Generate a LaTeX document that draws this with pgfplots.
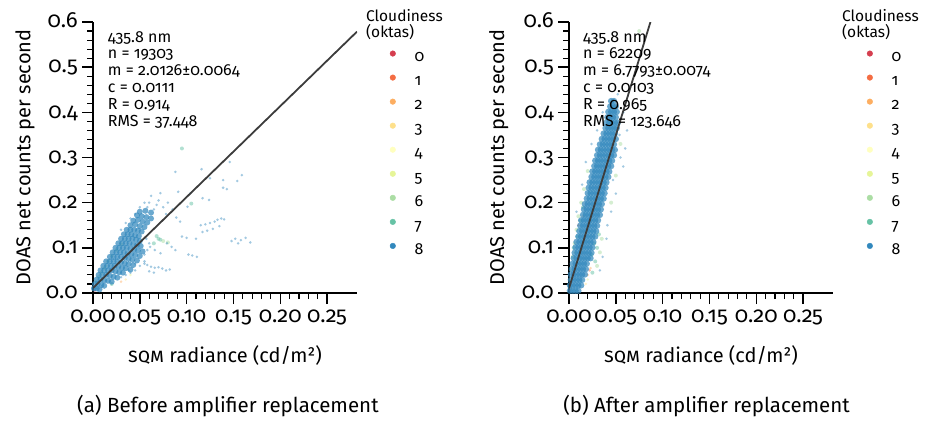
\documentclass[border=0pt]{standalone}
\usepackage{fontspec}
\setmainfont{Fira Sans}[Numbers=OldStyle]
\usepackage{pgfplots}
\pgfplotsset{compat=1.18}
\definecolor{c0}{HTML}{D53E4F}
\definecolor{c1}{HTML}{F46D43}
\definecolor{c2}{HTML}{FDAE61}
\definecolor{c3}{HTML}{FEE08B}
\definecolor{c4}{HTML}{FFFFBF}
\definecolor{c5}{HTML}{E6F598}
\definecolor{c6}{HTML}{ABDDA4}
\definecolor{c7}{HTML}{66C2A5}
\definecolor{c8}{HTML}{3288BD}
\definecolor{fitc}{HTML}{3C3C3C}
\tikzset{boxfont/.style={anchor=base west, inner sep=0pt, font=\fontsize{16bp}{18bp}\selectfont}}
\pgfplotsset{
  myax/.style={
    scale only axis, width=264bp, height=271bp, anchor=south west,
    xmin=0, xmax=0.282, ymin=0, ymax=0.6,
    axis lines*=left, axis line style={line width=1.4bp},
    tick align=outside, major tick length=11bp, minor tick length=6bp,
    major tick style={line width=1.4bp, black},
    minor tick style={line width=1.1bp, black},
    xtick={0,0.05,0.1,0.15,0.2,0.25}, ytick={0,0.1,0.2,0.3,0.4,0.5,0.6},
    minor x tick num=4, minor y tick num=4,
    tick label style={font=\fontsize{22bp}{24bp}\selectfont},
    /pgf/number format/assume math mode=true,
    xticklabel style={/pgf/number format/.cd, fixed, fixed zerofill, precision=2, /tikz/.cd, text height=11.6bp, text depth=0bp, inner sep=7bp},
    yticklabel style={/pgf/number format/.cd, fixed, fixed zerofill, precision=1, /tikz/.cd, text height=11.6bp, text depth=0bp, inner sep=4bp},
    label style={font=\fontsize{20bp}{23bp}\selectfont},
    xlabel={\textsc{sqm} radiance (cd/m²)},
    ylabel={DOAS net counts per second},
    xlabel style={at={(axis description cs:0.5,-0.229)}, anchor=center},
    clip mode=individual,
    legend image code/.code={\draw[#1] plot coordinates {(0bp,4.5bp)};},
    legend cell align=left,
  },
  core/.style={only marks, mark=*, mark size=3bp, fill opacity=0.72, draw opacity=0, forget plot},
  sparse/.style={only marks, mark=*, mark size=1.4bp, fill opacity=0.45, draw opacity=0, forget plot},
  light/.style={only marks, mark=*, mark size=2bp, fill opacity=0.5, draw opacity=0, forget plot},
  fitline/.style={no marks, line width=1.8bp, color=fitc, forget plot},
  leg/.style={only marks, mark=*, mark size=2.8bp, #1, fill opacity=1},
  legsty/.style={legend style={draw=none, fill=none, inner sep=0pt, outer sep=0pt,
    font=\fontsize{16bp}{18bp}\selectfont, row sep=10bp, column sep=19bp,
    nodes={inner sep=0pt, text height=10.5bp, text depth=3bp},
    at={(axis description cs:#1,0.894)}, anchor=north west}},
}
\newcommand{\legendentries}{%
  \addlegendimage{leg=c0}\addlegendentry{0}
  \addlegendimage{leg=c1}\addlegendentry{1}
  \addlegendimage{leg=c2}\addlegendentry{2}
  \addlegendimage{leg=c3}\addlegendentry{3}
  \addlegendimage{leg=c4}\addlegendentry{4}
  \addlegendimage{leg=c5}\addlegendentry{5}
  \addlegendimage{leg=c6}\addlegendentry{6}
  \addlegendimage{leg=c7}\addlegendentry{7}
  \addlegendimage{leg=c8}\addlegendentry{8}
}
\newcommand{\legtitle}{%
  \node[anchor=base west, inner sep=0pt, font=\fontsize{15.5bp}{18bp}\selectfont] at (axis description cs:1.034,1.003) {Cloudiness};
  \node[anchor=base west, inner sep=0pt, font=\fontsize{15.5bp}{18bp}\selectfont] at (axis description cs:1.034,0.941) {(oktas)};
}
\begin{document}
\begin{tikzpicture}
\useasboundingbox (0,0) rectangle (928bp,423bp);
% ---------------- (a) ----------------
\begin{axis}[myax, at={(93bp,130bp)}, legsty=1.125,
  ylabel style={at={(axis description cs:-0.258,0.5)}, anchor=center}]
\addplot[sparse, color=c0] coordinates {(0.002,0.005)};
\addplot[sparse, color=c1] coordinates {(0.006,0.010)};
\addplot[sparse, color=c2] coordinates {(0.003,0.012)(0.030,0.025)};
\addplot[sparse, color=c3] coordinates {(0.004,0.020)(0.035,0.030)};
\addplot[sparse, color=c4] coordinates {(0.005,0.022)};
\addplot[sparse, color=c5] coordinates {(0.002,0.015)(0.008,0.040)(0.014,0.060)(0.040,0.040)};
\addplot[light, color=c6] coordinates {(0.003,0.025)(0.006,0.035)(0.009,0.045)(0.012,0.055)(0.016,0.070)(0.020,0.082)(0.025,0.095)(0.030,0.108)(0.075,0.115)(0.080,0.112)};
\addplot[light, color=c7] coordinates {(0.095,0.320)(0.105,0.198)(0.070,0.120)(0.068,0.126)(0.072,0.118)(0.065,0.110)(0.020,0.020)};
\addplot[core, color=c8] coordinates {
(0.001,0.010)(0.004,0.010)(0.007,0.008)
(0.002,0.020)(0.005,0.020)(0.009,0.018)(0.012,0.016)
(0.004,0.030)(0.008,0.030)(0.012,0.028)(0.016,0.027)(0.020,0.025)
(0.006,0.040)(0.010,0.040)(0.014,0.040)(0.018,0.038)(0.022,0.036)(0.026,0.034)
(0.008,0.050)(0.012,0.050)(0.016,0.050)(0.020,0.050)(0.024,0.048)(0.028,0.046)(0.032,0.045)
(0.011,0.060)(0.015,0.060)(0.019,0.060)(0.023,0.060)(0.027,0.058)(0.031,0.056)(0.035,0.055)(0.040,0.052)
(0.014,0.070)(0.018,0.070)(0.022,0.070)(0.026,0.070)(0.030,0.068)(0.034,0.066)(0.038,0.064)(0.043,0.062)
(0.018,0.080)(0.022,0.080)(0.026,0.080)(0.030,0.080)(0.034,0.078)(0.038,0.076)(0.042,0.074)(0.047,0.072)
(0.021,0.090)(0.025,0.090)(0.029,0.090)(0.033,0.090)(0.037,0.088)(0.041,0.086)(0.045,0.084)(0.050,0.082)
(0.024,0.100)(0.028,0.100)(0.032,0.100)(0.036,0.100)(0.040,0.098)(0.044,0.096)(0.048,0.094)(0.053,0.092)
(0.027,0.110)(0.031,0.110)(0.035,0.110)(0.039,0.110)(0.043,0.108)(0.047,0.106)(0.051,0.104)
(0.030,0.120)(0.034,0.120)(0.038,0.120)(0.042,0.120)(0.046,0.118)(0.050,0.115)
(0.033,0.130)(0.037,0.130)(0.041,0.130)(0.045,0.128)(0.049,0.126)
(0.036,0.140)(0.040,0.140)(0.044,0.140)(0.048,0.138)(0.052,0.136)
(0.040,0.150)(0.045,0.152)(0.050,0.148)(0.055,0.146)
(0.043,0.160)(0.048,0.162)(0.053,0.158)(0.058,0.156)
(0.047,0.172)(0.052,0.170)(0.057,0.168)(0.062,0.165)
(0.050,0.180)(0.056,0.182)(0.062,0.178)};
\addplot[sparse, color=c8] coordinates {
(0.088,0.268)(0.116,0.274)(0.146,0.290)(0.159,0.261)(0.154,0.248)(0.139,0.250)(0.125,0.254)(0.139,0.233)(0.143,0.230)(0.091,0.224)(0.072,0.221)(0.104,0.221)(0.117,0.210)(0.124,0.206)(0.101,0.191)(0.089,0.167)(0.093,0.158)
(0.115,0.150)(0.120,0.152)(0.125,0.155)(0.130,0.158)(0.133,0.162)(0.137,0.165)(0.140,0.163)(0.135,0.148)(0.128,0.142)(0.122,0.138)(0.117,0.135)
(0.095,0.125)(0.100,0.122)(0.110,0.120)(0.079,0.110)(0.084,0.102)(0.088,0.095)
(0.148,0.115)(0.152,0.120)(0.158,0.117)(0.163,0.122)(0.168,0.112)(0.155,0.110)
(0.102,0.085)(0.111,0.080)(0.106,0.083)
(0.055,0.070)(0.058,0.062)(0.062,0.058)(0.066,0.056)(0.070,0.057)(0.074,0.054)(0.078,0.050)(0.082,0.052)(0.060,0.048)(0.065,0.045)
(0.061,0.102)(0.066,0.095)(0.072,0.088)
(0.050,0.190)(0.055,0.200)(0.062,0.215)(0.070,0.205)(0.075,0.190)(0.080,0.200)(0.085,0.185)(0.065,0.185)(0.058,0.190)(0.068,0.195)(0.078,0.175)(0.060,0.200)
(0.030,0.035)(0.035,0.040)(0.040,0.045)(0.045,0.050)(0.050,0.060)(0.055,0.065)(0.045,0.065)(0.038,0.050)(0.055,0.085)(0.058,0.095)(0.060,0.110)(0.057,0.120)
(0.030,0.140)(0.035,0.155)(0.040,0.165)(0.045,0.175)};
\addplot[fitline] coordinates {(0,0.0111)(0.282,0.5787)};
\legendentries
\node[boxfont] at (axis description cs:0.0557,0.9262) {435.8 nm};
\node[boxfont] at (axis description cs:0.0557,0.8638) {n = 19303};
\node[boxfont] at (axis description cs:0.0557,0.8015) {m = 2.0126±0.0064};
\node[boxfont] at (axis description cs:0.0557,0.7391) {c = 0.0111};
\node[boxfont] at (axis description cs:0.0557,0.6768) {R = 0.914};
\node[boxfont] at (axis description cs:0.0557,0.6144) {RMS = 37.448};
\legtitle
\node[font=\fontsize{20.5bp}{23bp}\selectfont] at (axis description cs:0.511,-0.417) {(a) Before amplifier replacement};
\end{axis}
% ---------------- (b) ----------------
\begin{axis}[myax, at={(569bp,130bp)}, legsty=1.129,
  ylabel style={at={(axis description cs:-0.266,0.5)}, anchor=center}]
\addplot[sparse, color=c0] coordinates {(0.001,0.005)};
\addplot[sparse, color=c1] coordinates {(0.022,0.050)(0.010,0.150)};
\addplot[sparse, color=c2] coordinates {(0.020,0.040)(0.023,0.055)(0.002,0.010)(0.015,0.170)};
\addplot[sparse, color=c3] coordinates {(0.001,0.030)(0.018,0.020)};
\addplot[sparse, color=c4] coordinates {(0.003,0.060)};
\addplot[sparse, color=c5] coordinates {(0.002,0.050)(0.006,0.090)(0.020,0.030)};
\addplot[light, color=c6] coordinates {(0.006,0.110)(0.008,0.140)(0.010,0.170)(0.013,0.200)(0.016,0.230)(0.020,0.270)(0.004,0.080)(0.030,0.060)(0.033,0.090)(0.035,0.120)(0.045,0.200)(0.050,0.260)(0.055,0.330)(0.075,0.580)};
\addplot[light, color=c7] coordinates {(0.025,0.045)(0.028,0.070)(0.030,0.100)(0.032,0.130)(0.024,0.085)(0.005,0.100)(0.009,0.125)(0.012,0.160)(0.015,0.190)(0.027,0.110)};
\addplot[core, color=c8, mark size=3.2bp] coordinates {
(0.001,0.005)(0.004,0.005)(0.007,0.005)(0.010,0.005)
(0.001,0.017)(0.004,0.017)(0.007,0.017)(0.010,0.017)(0.013,0.017)
(0.002,0.029)(0.005,0.029)(0.008,0.029)(0.011,0.029)(0.014,0.029)
(0.002,0.041)(0.005,0.041)(0.008,0.041)(0.011,0.041)(0.014,0.041)(0.017,0.041)
(0.003,0.053)(0.006,0.053)(0.009,0.053)(0.012,0.053)(0.015,0.053)(0.018,0.053)
(0.004,0.065)(0.007,0.065)(0.010,0.065)(0.013,0.065)(0.016,0.065)(0.019,0.065)
(0.005,0.077)(0.008,0.077)(0.011,0.077)(0.014,0.077)(0.017,0.077)(0.020,0.077)(0.023,0.077)
(0.006,0.089)(0.009,0.089)(0.012,0.089)(0.015,0.089)(0.018,0.089)(0.021,0.089)(0.024,0.089)
(0.007,0.101)(0.010,0.101)(0.013,0.101)(0.016,0.101)(0.019,0.101)(0.022,0.101)(0.025,0.101)
(0.008,0.113)(0.011,0.113)(0.014,0.113)(0.017,0.113)(0.020,0.113)(0.023,0.113)(0.026,0.113)
(0.010,0.125)(0.013,0.125)(0.016,0.125)(0.019,0.125)(0.022,0.125)(0.025,0.125)(0.028,0.125)
(0.011,0.137)(0.014,0.137)(0.017,0.137)(0.020,0.137)(0.023,0.137)(0.026,0.137)(0.029,0.137)
(0.012,0.149)(0.015,0.149)(0.018,0.149)(0.021,0.149)(0.024,0.149)(0.027,0.149)(0.030,0.149)
(0.013,0.161)(0.016,0.161)(0.019,0.161)(0.022,0.161)(0.025,0.161)(0.028,0.161)(0.031,0.161)
(0.015,0.173)(0.018,0.173)(0.021,0.173)(0.024,0.173)(0.027,0.173)(0.030,0.173)(0.033,0.173)
(0.016,0.185)(0.019,0.185)(0.022,0.185)(0.025,0.185)(0.028,0.185)(0.031,0.185)(0.034,0.185)
(0.017,0.197)(0.020,0.197)(0.023,0.197)(0.026,0.197)(0.029,0.197)(0.032,0.197)(0.035,0.197)
(0.019,0.209)(0.022,0.209)(0.025,0.209)(0.028,0.209)(0.031,0.209)(0.034,0.209)(0.037,0.209)
(0.020,0.221)(0.023,0.221)(0.026,0.221)(0.029,0.221)(0.032,0.221)(0.035,0.221)(0.038,0.221)
(0.021,0.233)(0.024,0.233)(0.027,0.233)(0.030,0.233)(0.033,0.233)(0.036,0.233)(0.039,0.233)
(0.022,0.245)(0.025,0.245)(0.028,0.245)(0.031,0.245)(0.034,0.245)(0.037,0.245)(0.040,0.245)
(0.024,0.257)(0.027,0.257)(0.030,0.257)(0.033,0.257)(0.036,0.257)(0.039,0.257)(0.042,0.257)
(0.025,0.269)(0.028,0.269)(0.031,0.269)(0.034,0.269)(0.037,0.269)(0.040,0.269)(0.043,0.269)
(0.027,0.281)(0.030,0.281)(0.033,0.281)(0.036,0.281)(0.039,0.281)(0.042,0.281)(0.045,0.281)
(0.028,0.293)(0.031,0.293)(0.034,0.293)(0.037,0.293)(0.040,0.293)(0.043,0.293)(0.046,0.293)
(0.030,0.305)(0.033,0.305)(0.036,0.305)(0.039,0.305)(0.042,0.305)(0.045,0.305)(0.048,0.305)
(0.031,0.317)(0.034,0.317)(0.037,0.317)(0.040,0.317)(0.043,0.317)(0.046,0.317)(0.049,0.317)
(0.033,0.329)(0.036,0.329)(0.039,0.329)(0.042,0.329)(0.045,0.329)(0.048,0.329)
(0.035,0.341)(0.038,0.341)(0.041,0.341)(0.044,0.341)(0.047,0.341)(0.050,0.341)
(0.037,0.353)(0.040,0.353)(0.043,0.353)(0.046,0.353)(0.049,0.353)
(0.039,0.365)(0.042,0.365)(0.045,0.365)(0.048,0.365)(0.051,0.365)
(0.040,0.377)(0.043,0.377)(0.046,0.377)(0.049,0.377)(0.052,0.377)
(0.041,0.389)(0.044,0.389)(0.047,0.389)(0.050,0.389)
(0.042,0.401)(0.045,0.401)(0.048,0.401)(0.051,0.401)
(0.044,0.413)(0.047,0.413)(0.050,0.413)
(0.045,0.425)(0.048,0.425)};
\addplot[sparse, color=c8] coordinates {
(0.055,0.300)(0.058,0.280)(0.054,0.350)(0.036,0.400)(0.052,0.440)(0.060,0.320)(0.014,0.240)(0.018,0.290)(0.041,0.150)(0.045,0.180)(0.024,0.330)(0.050,0.220)(0.047,0.250)(0.008,0.180)(0.030,0.360)(0.058,0.400)(0.062,0.360)(0.040,0.120)(0.036,0.080)(0.033,0.050)};
\addplot[fitline] coordinates {(0,0.0103)(0.08699,0.6)};
\legendentries
\node[boxfont] at (axis description cs:0.053,0.9262) {435.8 nm};
\node[boxfont] at (axis description cs:0.053,0.8638) {n = 62209};
\node[boxfont] at (axis description cs:0.053,0.8015) {m = 6.7793±0.0074};
\node[boxfont] at (axis description cs:0.053,0.7391) {c = 0.0103};
\node[boxfont] at (axis description cs:0.053,0.6768) {R = 0.965};
\node[boxfont] at (axis description cs:0.053,0.6144) {RMS = 123.646};
\legtitle
\node[font=\fontsize{20.5bp}{23bp}\selectfont] at (axis description cs:0.521,-0.417) {(b) After amplifier replacement};
\end{axis}
\end{tikzpicture}
\end{document}
